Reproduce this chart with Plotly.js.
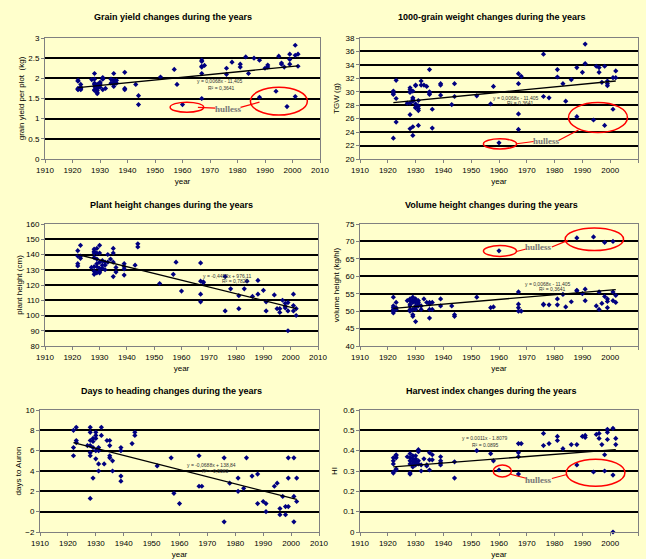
<!DOCTYPE html>
<html><head><meta charset="utf-8">
<script src="https://cdn.plot.ly/plotly-3.0.1.min.js"></script>
<style>html,body{margin:0;padding:0;background:#FFFFCC;} #chart{width:646px;height:559px;}</style>
</head><body><div id="chart"></div>
<script>
const xTickVals = [1910,1920,1930,1940,1950,1960,1970,1980,1990,2000,2010];

// Panel 1: grain yield (kg)
const gyYears = [1922,1922,1922,1922,1922, 1923,1923,1923,1923, 1927, 1928,1928,1928,1928,1928,1928,1928,
  1929,1929,1929,1929,1929,1929, 1930,1930,1930,1930, 1931,1931,1931, 1932, 1934,1934, 1935,1935,1935,1935,1935,
  1936,1936, 1939,1939,1939, 1943, 1944,1944, 1952, 1957, 1958, 1960, 1967,1967,1967,1967,1967,1967, 1968,
  1976,1976, 1978, 1981,1981, 1983, 1984, 1986, 1988,1988, 1990, 1991,1991, 1994, 1995, 1996,1996, 1997, 1998,
  1999,1999,1999, 2001,2001,2001, 2002,2002];
const gyValues = [1.95,1.93,1.75,1.72,1.73, 1.85,1.78,1.72,1.75, 1.97, 2.12,1.98,1.88,1.85,1.80,1.72,1.70,
  1.75,1.65,1.62,1.80,1.85,1.70, 1.90,1.88,1.85,1.78, 2.02,1.98,1.72, 1.75, 1.98,1.88, 2.12,1.95,1.90,1.85,1.80,
  1.95,1.88, 2.15,1.75,1.72, 1.85, 1.57,1.35, 2.03, 2.22, 1.85, 1.35, 2.45,2.42,2.30,2.28,2.12,1.50, 2.32,
  2.25,2.10, 2.40, 2.35,2.28, 2.53, 2.12, 2.50, 2.45,1.53, 2.25, 2.33,2.28, 1.68, 2.55, 2.38,2.35, 2.28, 1.30,
  2.60,2.47,2.35, 2.82,2.57,1.55, 2.60,2.30];
const gyTrendYears = [1922, 2002];
const gyTrendValues = [1.77, 2.31];

// Panel 2: 1000-grain weight (g)
const tgwYears = [1922,1922,1922,1922, 1923,1923,1923, 1927, 1928,1928,1928,1928,1928,1928,
  1929,1929,1929,1929,1929,1929, 1930,1930,1930,1930,1930, 1931,1931,1931,1931,1931, 1932,1932, 1933, 1934,
  1935,1935,1935,1935, 1936,1936, 1939,1939,1939, 1943, 1944,1944, 1952, 1957, 1958, 1960, 1967,1967,1967,1967,
  1968, 1976,1976, 1978, 1981,1981, 1983, 1984, 1986, 1988,1988, 1990, 1991,1991, 1994, 1995, 1996,1996, 1997,
  1998,1998, 1999,1999,1999, 2001,2001, 2002,2002];
const tgwValues = [30.1,29.8,29.6,23.1, 31.7,29.0,25.5, 28.3, 30.6,30.3,29.9,28.3,26.6,24.5,
  30.1,29.1,28.9,28.6,24.8,23.5, 31.0,30.9,28.2,27.7,27.6, 28.7,27.9,27.5,27.2,25.0, 31.6,31.0, 31.0, 30.8,
  33.3,30.0,29.8,29.6, 27.4,24.6, 31.2,31.0,29.5, 28.1, 31.2,29.3, 29.4, 28.2, 30.8, 22.4, 32.7,31.2,26.7,24.4,
  32.3, 35.6,29.3, 29.1, 33.3,32.2, 31.2, 28.6, 31.8, 33.6,26.3, 32.9, 37.1,34.2, 25.8, 33.8, 33.6,32.9, 31.4,
  33.8,25.0, 31.6,31.2,30.9, 32.1,27.4, 33.1,32.1];
const tgwTrendYears = [1922, 2002];
const tgwTrendValues = [28.4, 31.6];

// Panel 3: plant height (cm)
const phYears = [1922,1922,1922,1922, 1923,1923,1923, 1927, 1928,1928,1928,1928,1928,1928,1928,
  1929,1929,1929,1929,1929,1929, 1930,1930,1930,1930,1930,1930, 1931,1931,1931, 1932,1932,1932, 1933,1933, 1934,
  1935,1935,1935,1935, 1936,1936, 1939,1939,1939,1939, 1943, 1944,1944, 1952, 1957, 1958, 1960,
  1967,1967,1967,1967, 1968,1968, 1976,1976, 1978, 1981,1981, 1983, 1984, 1986, 1988,1988, 1990, 1991,1991,
  1994, 1995, 1996,1996, 1997, 1998,1998,1998, 1999,1999,1999, 2001,2001,2001, 2002,2002];
const phValues = [142.5,139,134,132.5, 146,139,137.5, 131.5, 143.5,142,141,138,132,129,127,
  144,141,137,134,132,128, 146,141,135,131,129,128, 136,133,131, 135,133,130, 140,135, 137,
  144,141,135,125.5, 131.5,128.5, 134,132,130.5,126.5, 133, 147,145, 121, 127, 135, 116,
  134.5,122.5,114,109, 122,121.5, 125.5,103, 117.5, 113,104.5, 117.5, 122.5, 112.5, 123,114, 116.5, 109,103,
  113.5, 104.5, 104.5,102, 110, 108,106,105, 108.5,103,90, 114,106.5,103, 104.5,100];
const phTrendYears = [1922, 2002];
const phTrendValues = [140, 104.5];

// Panel 4: volume height (kg/hl)
const vhYears = [1922,1922,1922,1922,1922,1922, 1923,1923,1923, 1927, 1928,1928,1928,1928,1928,1928,
  1929,1929,1929,1929,1929,1929, 1930,1930,1930,1930,1930,1930,1930, 1931,1931,1931,1931, 1932,1932, 1933, 1934,
  1935,1935,1935,1935, 1936,1936, 1939,1939, 1943, 1944,1944, 1952, 1957, 1958, 1960, 1967,1967,1967,1967, 1968,
  1976,1976, 1978, 1981,1981, 1983, 1984, 1986, 1988,1988,1988, 1990, 1991,1991, 1994, 1995, 1996,1996, 1997,
  1998,1998, 1999,1999,1999, 2001,2001,2001, 2002,2002];
const vhValues = [54,51.5,51,50.5,50,49.5, 52.5,51,50.5, 53, 53.5,53,52,51.5,50.5,50,
  54,53,52.5,50.5,49,48.5, 53.5,53,52.5,51.5,51,50.5,47, 53,52.5,52,51.5, 51.5,50.5, 53.5, 52.5,
  52.5,52,50.5,48, 52.5,50.5, 53.5,51.5, 51.5, 49,48.5, 54, 51, 51.2, 67.3, 55.5,52,51,50, 50,
  52,51.8, 51.8, 53.5,51.8, 54.8, 51.2, 52.7, 71,56,55.8, 55, 56.3,53, 71.3, 51.5, 55.5,50.5, 52.2,
  69.7,54.2, 53.5,52.8,51, 70,55.5,53, 54.5,52.5];
const vhTrendYears = [1922, 2002];
const vhTrendValues = [50.8, 56.2];

// Panel 5: days to heading (days to Auron)
const dhYears = [1922,1922,1922, 1923,1923,1923, 1927, 1928,1928,1928,1928,1928,1928,1928,
  1929,1929,1929,1929, 1930,1930,1930,1930,1930, 1931,1931,1931,1931, 1932,1932, 1933, 1934,
  1935,1935,1935,1935, 1936,1936, 1939,1939,1939,1939, 1943, 1944,1944, 1952, 1957, 1958, 1960, 1967,1967, 1968,
  1976,1976, 1978, 1981,1981, 1983, 1984, 1986, 1988,1988, 1990, 1991,1991, 1994, 1995, 1996,1996, 1997,
  1998,1998, 1999,1999,1999, 2001,2001,2001, 2002,2002];
const dhValues = [8.0,6.3,5.5, 8.3,7.0,6.8, 6.5, 8.3,7.8,7.0,6.5,5.8,5.5,1.3,
  7.2,6.9,6.3,3.3, 7.8,7.5,7.2,6.0,5.2, 6.3,6.0,4.7,4.0, 8.3,7.5, 4.7, 7.0,
  7.0,6.5,5.5,5.3, 5.0,4.0, 6.3,6.0,3.5,3.0, 6.7, 7.8,7.5, 4.5, 5.3, 1.8, 0.8, 5.5,2.5, 2.5,
  5.3,-1.0, 2.8, 3.3,2.0, 2.3, 5.3, 3.5, 3.7,0.8, 1.0, 0.8,0.0, 2.5, 2.8, 0.3,-0.3, 1.5,
  0.5,-0.3, 5.3,3.3,0.5, 5.3,1.5,-1.0, 3.3,1.0];
const dhTrendYears = [1922, 2002];
const dhTrendValues = [6.8, 1.2];

// Panel 6: harvest index
const hiYears = [1922,1922,1922,1922,1922, 1923,1923,1923,1923,1923, 1927, 1928,1928,1928,1928,1928,1928,
  1929,1929,1929,1929,1929, 1930,1930,1930,1930,1930, 1931,1931,1931,1931, 1932,1932, 1933, 1934,1934,
  1935,1935,1935, 1936,1936, 1939,1939,1939,1939, 1944,1944, 1952, 1957, 1958, 1960, 1967,1967,1967,1967, 1968,
  1976,1976, 1978, 1981,1981, 1983, 1986, 1988,1988, 1990, 1991,1991, 1994, 1995, 1996,1996, 1997,
  1998,1998, 1999,1999,1999, 2001,2001,2001, 2002,2002];
const hiValues = [0.365,0.35,0.335,0.295,0.29, 0.38,0.375,0.365,0.31,0.305, 0.37, 0.385,0.365,0.35,0.335,0.29,0.285,
  0.375,0.36,0.345,0.33,0.32, 0.375,0.36,0.35,0.34,0.33, 0.405,0.395,0.35,0.335, 0.33,0.30, 0.36, 0.33,0.325,
  0.39,0.355,0.305, 0.38,0.355, 0.37,0.35,0.34,0.33, 0.345,0.265, 0.40, 0.385, 0.35, 0.305, 0.435,0.39,0.37,0.285, 0.435,
  0.485,0.425, 0.435, 0.47,0.45, 0.41, 0.43, 0.43,0.33, 0.47, 0.475,0.465, 0.295, 0.48, 0.485,0.46, 0.43,
  0.38,0.30, 0.505,0.49,0.455, 0.51,0.28,0.0, 0.46,0.43];
const hiTrendYears = [1922, 2002];
const hiTrendValues = [0.32, 0.405];

const titles = ["Grain yield changes during the years", "1000-grain weight changes during the years",
  "Plant height changes during the years", "Volume height changes during the years",
  "Days to heading changes during the years", "Harvest index changes during the years"];
const yTitles = ["grain yield per plot  (kg)", "TGW (g)", "plant height (cm)", "volume height (kg/hl)", "days to Auron", "HI"];
const equations = ["y = 0,0068x - 11,405", "y = 0,0068x - 11,405", "y = -0,4452x + 976,11", "y = 0,0068x - 11,405", "y = -0,0688x + 138,84", "y = 0.0011x - 1.8079"];
const rSquared = ["R² = 0,3641", "R² = 0,3641", "R² = 0,7828", "R² = 0,3641", "R² = 0,5583", "R² = 0.0895"];

const W = 646, H = 559;
const panels = [
  {px:[45,320], py:[38,159], yr:[0,3], dt:0.5, x:gyYears, y:gyValues, tx:gyTrendYears, ty:gyTrendValues,
   eq:[1973.5,1.93,1974,1.75], tt:[173,17], yts:2,
   hull:{e1:[1955.5,1967.7,1.16,1.41], e2:[1984.7,2005.4,1.09,1.78], t:[1976.6,1.23], l1:[1965.6,1.28,1972,1.26], l2:[1981.1,1.28,1988,1.41]}},
  {px:[360,638], py:[38,159], yr:[20,38], dt:2, x:tgwYears, y:tgwValues, tx:tgwTrendYears, ty:tgwTrendValues,
   eq:[1966,29.1,1967.5,28.3], tt:[492,17], yts:4,
   hull:{e1:[1954.4,1966.3,21.5,23.0], e2:[1985,2006.2,23.95,28.4], t:[1977,22.7], l1:[1966.3,22.27,1972.5,22.6], l2:[1981.4,22.76,1988.6,24.3]}},
  {px:[45,318], py:[224,346], yr:[80,160], dt:10, x:phYears, y:phValues, tx:phTrendYears, ty:phTrendValues,
   eq:[1976.5,126,1979.5,122.3], tt:[171,205], yts:2},
  {px:[360,638], py:[224,346], yr:[40,75], dt:5, x:vhYears, y:vhValues, tx:vhTrendYears, ty:vhTrendValues,
   eq:[1977.6,57.8,1979,56.3], tt:[491,205], yts:4,
   hull:{e1:[1954.4,1966.3,65.7,68.8], e2:[1983.8,2004.8,67.4,73.85], t:[1974.3,68.3], l1:[1966.3,67.1,1970.1,67.9], l2:[1979,68.4,1984.8,70.3]}},
  {px:[40,319], py:[410,532], yr:[-2,10], dt:2, x:dhYears, y:dhValues, tx:dhTrendYears, ty:dhTrendValues,
   eq:[1971.5,4.58,1972.7,4.0], tt:[171,391], yts:2},
  {px:[360,638], py:[410,532], yr:[0,0.6], dt:0.1, x:hiYears, y:hiValues, tx:hiTrendYears, ty:hiTrendValues,
   eq:[1954.9,0.46,1954.9,0.43], tt:[491,391], yts:4,
   hull:{e1:[1957.9,1964.5,0.271,0.329], e2:[1984.2,2005.3,0.225,0.358], t:[1974.3,0.258], l1:[1964.1,0.284,1970.1,0.263], l2:[1979,0.263,1984.4,0.283]}}
];

const baseFont = {family:"Liberation Sans, Arial, sans-serif", size:8, color:"#000"};
const data = [], shapes = [], annotations = [];
const layout = {width:W, height:H, margin:{l:0,r:0,t:0,b:0}, paper_bgcolor:"#FFFFCC", plot_bgcolor:"#FFFFCC",
  showlegend:false, font:baseFont};

panels.forEach((p, i) => {
  const n = i + 1, sfx = n === 1 ? "" : String(n);
  const xr = "x" + sfx, yr = "y" + sfx;
  layout["xaxis" + sfx] = {domain:[p.px[0]/W, p.px[1]/W], anchor:yr, range:[1910,2010], tickvals:xTickVals,
    showgrid:false, zeroline:false, showline:true, linecolor:"#808080", linewidth:1, mirror:true,
    ticks:"outside", ticklen:3, tickcolor:"#808080", tickfont:{size:8, color:"#000"},
    title:{text:"year", font:{size:8, color:"#000"}, standoff:4}};
  layout["yaxis" + sfx] = {domain:[1-p.py[1]/H, 1-p.py[0]/H], anchor:xr, range:p.yr, dtick:p.dt, tick0:p.yr[0],
    showgrid:true, gridcolor:"#000", gridwidth:2, zeroline:false, showline:true, linecolor:"#808080", linewidth:1, mirror:true,
    ticks:"outside", ticklen:3, tickcolor:"#808080", tickfont:{size:8, color:"#000"},
    title:{text:yTitles[i], font:{size:8, color:"#000"}, standoff:p.yts}};
  data.push({type:"scatter", mode:"markers", x:p.x, y:p.y, xaxis:xr, yaxis:yr, cliponaxis:false,
    marker:{symbol:"diamond", size:4, color:"#000080"}});
  data.push({type:"scatter", mode:"lines", x:p.tx, y:p.ty, xaxis:xr, yaxis:yr,
    line:{color:"#000", width:1.3}});
  annotations.push({xref:"paper", yref:"paper", x:p.tt[0]/W, y:1-p.tt[1]/H, text:"<b>"+titles[i]+"</b>",
    showarrow:false, font:{size:9, color:"#000"}, xanchor:"center", yanchor:"middle"});
  annotations.push({xref:xr, yref:yr, x:p.eq[0], y:p.eq[1], text:equations[i], showarrow:false,
    font:{size:5, color:"#333"}});
  annotations.push({xref:xr, yref:yr, x:p.eq[2], y:p.eq[3], text:rSquared[i], showarrow:false,
    font:{size:5, color:"#333"}});
  if (p.hull) {
    const h = p.hull;
    [h.e1, h.e2].forEach(e => shapes.push({type:"circle", xref:xr, yref:yr, x0:e[0], x1:e[1], y0:e[2], y1:e[3],
      line:{color:"#FF0000", width:1.5}}));
    [h.l1, h.l2].forEach(l => shapes.push({type:"line", xref:xr, yref:yr, x0:l[0], y0:l[1], x1:l[2], y1:l[3],
      line:{color:"#FF0000", width:1.2}}));
    annotations.push({xref:xr, yref:yr, x:h.t[0], y:h.t[1], text:"<b>hulless</b>", showarrow:false,
      font:{family:"Liberation Serif, Times New Roman, serif", size:9, color:"#777"}});
  }
});
layout.shapes = shapes;
layout.annotations = annotations;
Plotly.newPlot("chart", data, layout, {displayModeBar:false, staticPlot:true});
</script></body></html>
